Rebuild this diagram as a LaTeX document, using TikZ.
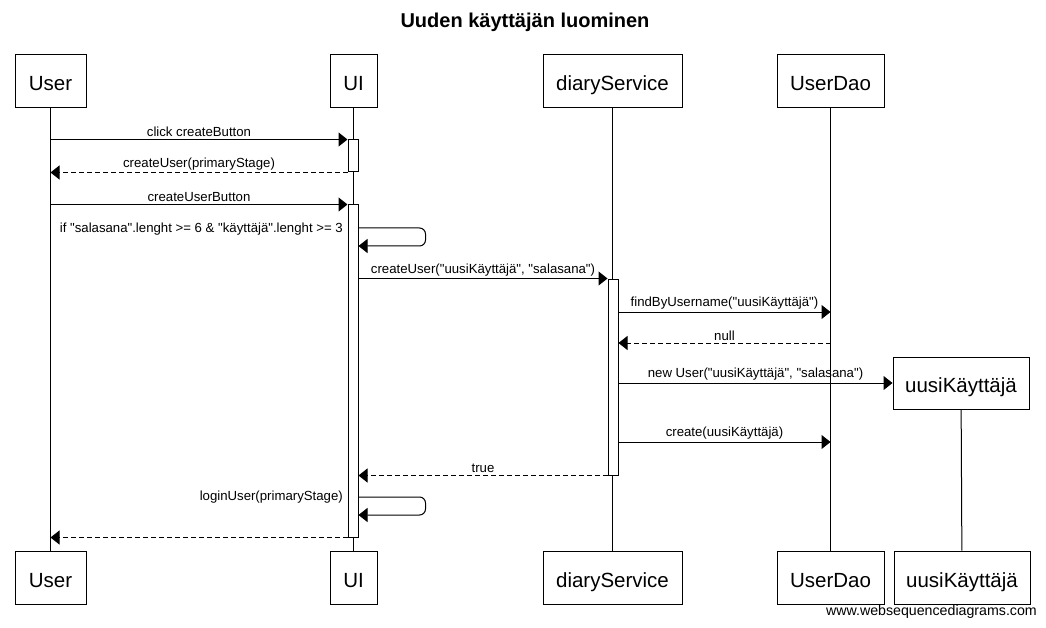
\documentclass[tikz,border=0pt]{standalone}
\usepackage{fontspec}
\setmainfont{Liberation Sans}[Ligatures=TeXOff]
\usetikzlibrary{arrows.meta}

\begin{document}
\begin{tikzpicture}[x=1pt, y=-1pt,
    actor/.style={draw, black, line width=1pt, minimum height=53pt, inner sep=0pt, text height=19pt, text depth=0pt, font=\fontsize{20.5}{24}\selectfont},
    act/.style={draw, black, fill=white, line width=1pt, minimum width=10pt, inner sep=0pt},
    msg/.style={black, line width=1pt, -{Triangle[length=9pt,width=14pt]}},
    ret/.style={msg, dash pattern=on 5pt off 3pt},
    lbl/.style={font=\fontsize{13.2}{15}\selectfont, inner sep=0pt},
    life/.style={black, line width=1pt}]
    \useasboundingbox (0,0) rectangle (1046,628);
    \node[font=\bfseries\fontsize{20}{24}\selectfont] (title) at (525,22) {Uuden käyttäjän luominen};
    \node[actor, minimum width=71pt] (userT) at (50.5,81.5) {User};
    \node[actor, minimum width=47pt] (uiT) at (353.5,81.5) {UI};
    \node[actor, minimum width=139pt] (serviceT) at (612.5,81.5) {diaryService};
    \node[actor, minimum width=107pt] (daoT) at (830.5,81.5) {UserDao};
    \node[actor, minimum width=136pt, minimum height=52pt] (newT) at (961,383) {uusiKäyttäjä};
    \node[actor, minimum width=71pt] (userB) at (50.5,577.5) {User};
    \node[actor, minimum width=47pt] (uiB) at (353.5,577.5) {UI};
    \node[actor, minimum width=139pt] (serviceB) at (612.5,577.5) {diaryService};
    \node[actor, minimum width=107pt] (daoB) at (830.5,577.5) {UserDao};
    \node[actor, minimum width=136pt] (newB) at (962,577.5) {uusiKäyttäjä};
    \draw[life] (userT) -- (userB);
    \draw[life] (uiT) -- (uiB);
    \draw[life] (serviceT) -- (serviceB);
    \draw[life] (daoT) -- (daoB);
    \draw[life] (newT) -- (newB);
    \node[act, minimum height=32pt] (a1) at (353,156) {};
    \node[act, minimum height=332pt] (a2) at (353,371) {};
    \node[act, minimum height=196pt] (a3) at (613,377) {};
    \draw[msg] (userT.south |- a1.north) -- node[lbl, above=2pt] {click createButton} (a1.north west);
    \draw[ret] (a1.south west) -- node[lbl, above=2pt] {createUser(primaryStage)} (userT.south |- a1.south);
    \draw[msg] (userT.south |- a2.north) -- node[lbl, above=2pt] {createUserButton} (a2.north west);
    \coordinate (loop1) at (a2.east |- 0,228);
    \draw[msg, rounded corners=6pt] (loop1) -- ++(67,0) -- ++(0,18) -- ++(-67,0);
    \node[lbl, anchor=east] (check) at (343,229) {if "salasana".lenght >= 6 \& "käyttäjä".lenght >= 3};
    \draw[msg] (a2.east |- a3.north) -- node[lbl, above=2pt] {createUser("uusiKäyttäjä", "salasana")} (a3.north west);
    \coordinate (find) at (a3.east |- 0,312);
    \draw[msg] (find) -- node[lbl, above=2pt] {findByUsername("uusiKäyttäjä")} (daoT.south |- find);
    \coordinate (null) at (daoT.south |- 0,343);
    \draw[ret] (null) -- node[lbl, above=2pt] {null} (a3.east |- null);
    \draw[msg] (a3.east |- newT.west) -- node[lbl, above=2pt] {new User("uusiKäyttäjä", "salasana")} (newT.west);
    \coordinate (create) at (a3.east |- 0,442);
    \draw[msg] (create) -- node[lbl, above=2pt] {create(uusiKäyttäjä)} (daoT.south |- create);
    \draw[ret] (a3.south west) -- node[lbl, above=2pt] {true} (a2.east |- a3.south);
    \coordinate (loop2) at (a2.east |- 0,497);
    \draw[msg, rounded corners=6pt] (loop2) -- ++(67,0) -- ++(0,18) -- ++(-67,0);
    \node[lbl, anchor=east] (login) at (343,497) {loginUser(primaryStage)};
    \draw[ret] (a2.south west) -- (userT.south |- a2.south);
    \node[lbl, anchor=east, font=\fontsize{14.2}{16}\selectfont] (site) at (1037,612) {www.websequencediagrams.com};
\end{tikzpicture}
\end{document}
